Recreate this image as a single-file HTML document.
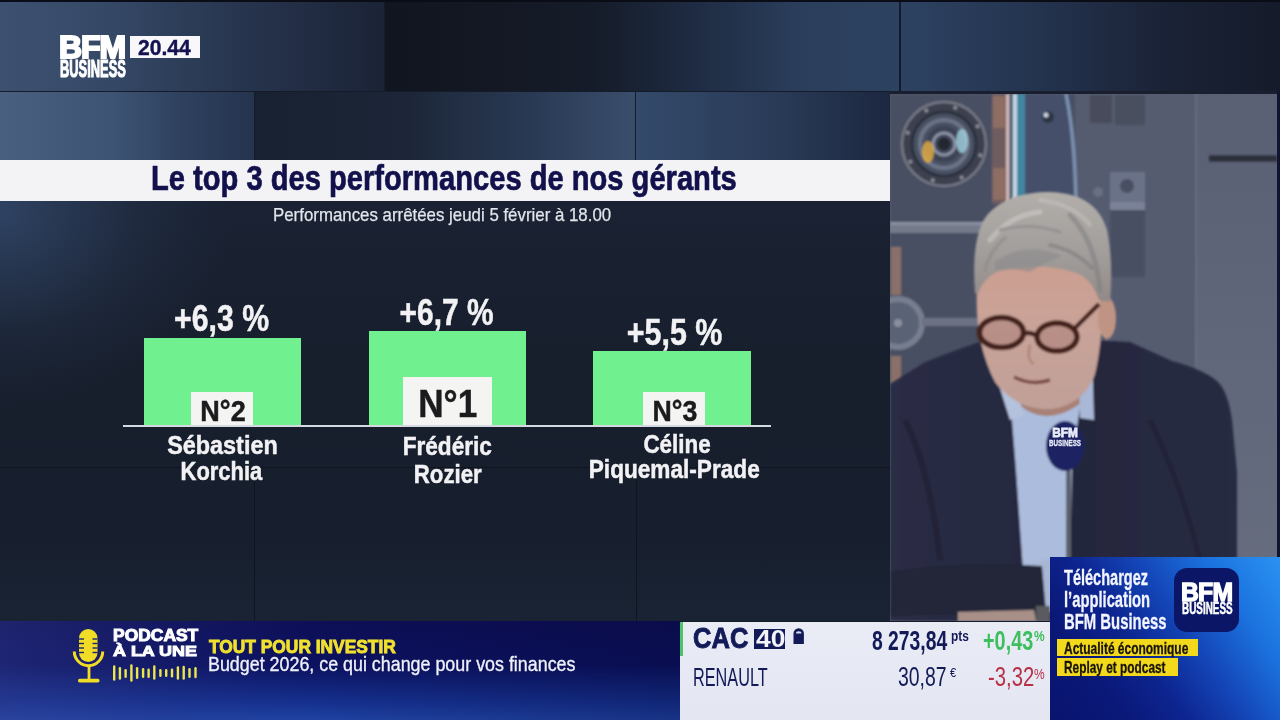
<!DOCTYPE html>
<html><head><meta charset="utf-8">
<style>
*{margin:0;padding:0;box-sizing:border-box}
html,body{width:1280px;height:720px;overflow:hidden;background:#151b29;font-family:"Liberation Sans",Arial,sans-serif}
.a{position:absolute}
.t{position:absolute;white-space:nowrap;line-height:1}
.sx{display:inline-block;transform-origin:0 0}
.c{position:absolute;width:300px;text-align:center;white-space:nowrap;line-height:1}
.cs{display:inline-block;transform-origin:50% 0}
</style></head><body>
<!-- top row tiles -->
<div class="a" style="left:0;top:0;width:384px;height:91px;background:linear-gradient(90deg,#3d5070 0%,#364a68 25%,#283650 60%,#1b2336 100%)"></div>
<div class="a" style="left:385px;top:0;width:514px;height:91px;background:linear-gradient(90deg,#11151f 0%,#151b28 40%,#1e2b42 60%,#2b3f5d 82%,#2d4160 100%)"></div>
<div class="a" style="left:901px;top:0;width:379px;height:91px;background:linear-gradient(90deg,#2d4262 0%,#24344f 35%,#1a2236 70%,#151b2a 100%)"></div>
<div class="a" style="left:0;top:0;width:1280px;height:2px;background:#0a0d16"></div>
<!-- row 2 -->
<div class="a" style="left:0;top:92px;width:254px;height:68px;background:linear-gradient(90deg,#4a6080 0%,#435a7a 20%,#3d5373 45%,#2e405e 72%,#25344f 100%)"></div>
<div class="a" style="left:255px;top:92px;width:380px;height:68px;background:linear-gradient(90deg,#182131 0%,#1c2638 40%,#2a3b56 75%,#3a4e6c 100%)"></div>
<div class="a" style="left:636px;top:92px;width:254px;height:68px;background:linear-gradient(90deg,#344a6b 0%,#283955 60%,#1c2740 100%)"></div>
<!-- chart area -->
<div class="a" style="left:0;top:201px;width:890px;height:420px;background:linear-gradient(180deg,#1a2233 0%,#171e2c 40%,#171f2e 80%,#192333 100%)"></div>
<div class="a" style="left:0;top:201px;width:890px;height:420px;background:radial-gradient(ellipse 230px 200px at 0px 10px,rgba(60,88,130,.6),rgba(60,88,130,.15) 60%,rgba(60,88,130,0) 100%)"></div>
<div class="a" style="left:0;top:467px;width:890px;height:1px;background:#10141d"></div>
<div class="a" style="left:254px;top:467px;width:1px;height:154px;background:#10141d"></div>
<div class="a" style="left:636px;top:467px;width:1px;height:154px;background:#10141d"></div>

<!-- white title bar -->
<div class="a" style="left:0;top:160px;width:890px;height:41px;background:#f3f3f5"></div>
<div class="t" id="title" style="left:151px;top:160px;font-size:35px;font-weight:bold;color:#12114c;-webkit-text-stroke:0.7px #12114c"><span class="sx" style="transform:scaleX(0.832)">Le top 3 des performances de nos gérants</span></div>
<div class="t" id="sub" style="left:273.2px;top:204.5px;font-size:19px;color:#e2e5ec;-webkit-text-stroke:0.25px #e2e5ec"><span class="sx" style="transform:scaleX(0.887)">Performances arrêtées jeudi 5 février à 18.00</span></div>

<!-- photo -->
<div class="a" style="left:890px;top:91px;width:390px;height:3px;background:#1a1f30"></div>
<div class="a" style="left:1277px;top:91px;width:3px;height:530px;background:#0f1530"></div>
<svg class="a" style="left:890px;top:94px" width="387" height="527" viewBox="890 94 387 527">
<defs>
<filter id="b1" x="-10%" y="-10%" width="120%" height="120%"><feGaussianBlur stdDeviation="1"/></filter>
<filter id="b2" x="-20%" y="-20%" width="140%" height="140%"><feGaussianBlur stdDeviation="2.5"/></filter>
<linearGradient id="wall" x1="0" y1="0" x2="0" y2="1"><stop offset="0" stop-color="#596074"/><stop offset="1" stop-color="#686e80"/></linearGradient>
<radialGradient id="dial" cx="0.5" cy="0.5" r="0.5"><stop offset="0" stop-color="#2a2f3c"/><stop offset="0.25" stop-color="#3a4152"/><stop offset="0.5" stop-color="#505a70"/><stop offset="0.75" stop-color="#3a4050"/><stop offset="1" stop-color="#4a5062"/></radialGradient>
<linearGradient id="hairg" x1="0" y1="0" x2="0" y2="1"><stop offset="0" stop-color="#b2aeaa"/><stop offset="0.55" stop-color="#a29e9b"/><stop offset="1" stop-color="#928a88"/></linearGradient>
<linearGradient id="skin" x1="0" y1="0" x2="0" y2="1"><stop offset="0" stop-color="#cc9e8e"/><stop offset="0.45" stop-color="#c9a398"/><stop offset="1" stop-color="#c0a098"/></linearGradient>
<linearGradient id="jack" x1="0" y1="0" x2="1" y2="0"><stop offset="0" stop-color="#2a2d45"/><stop offset="0.5" stop-color="#24273d"/><stop offset="1" stop-color="#282b42"/></linearGradient>
</defs>
<rect x="890" y="94" width="387" height="527" fill="url(#wall)"/>
<g filter="url(#b1)">
<!-- vault door left -->
<rect x="890" y="94" width="185" height="290" fill="#4a5062"/>
<rect x="1024" y="94" width="48" height="200" fill="#45506a"/>
<rect x="1075" y="94" width="120" height="290" fill="#545b6f"/>
<line x1="1196" y1="94" x2="1196" y2="560" stroke="#6a7088" stroke-width="1.5"/>
<rect x="1209" y="155.5" width="68" height="6" fill="#2a2d38"/>
<!-- dial -->
<circle cx="944" cy="144" r="42" fill="#3c4150" stroke="#767884" stroke-width="2.5"/>
<circle cx="980.3" cy="155.2" r="2" fill="#8a8c96"/><circle cx="961.7" cy="177.6" r="2" fill="#8a8c96"/><circle cx="932.8" cy="180.3" r="2" fill="#8a8c96"/><circle cx="910.4" cy="161.7" r="2" fill="#8a8c96"/><circle cx="907.7" cy="132.8" r="2" fill="#8a8c96"/><circle cx="926.3" cy="110.4" r="2" fill="#8a8c96"/><circle cx="955.2" cy="107.7" r="2" fill="#8a8c96"/><circle cx="977.6" cy="126.3" r="2" fill="#8a8c96"/>
<circle cx="944" cy="144" r="32" fill="#4a5164" stroke="#2c303c" stroke-width="3"/>
<circle cx="944" cy="144" r="24" fill="none" stroke="#6c7488" stroke-width="4"/>
<circle cx="944" cy="144" r="18" fill="#3c4254"/>
<circle cx="944" cy="144" r="11" fill="none" stroke="#8a92a4" stroke-width="3"/>
<circle cx="944" cy="144" r="6" fill="#22262e"/>
<ellipse cx="928" cy="152" rx="6" ry="11" fill="#e8b040" opacity="0.8"/>
<ellipse cx="962" cy="141" rx="6" ry="12" fill="#a8dce8" opacity="0.75"/>
<!-- copper bars -->
<rect x="992" y="94" width="15" height="110" fill="#6e5c60"/>
<rect x="993" y="96" width="12" height="32" fill="#8e6e64"/>
<rect x="993" y="168" width="12" height="32" fill="#8e6e64"/>
<rect x="1006" y="94" width="3.5" height="110" fill="#d0b8b4"/>
<rect x="1012" y="94" width="13" height="110" fill="#3f86a0"/>
<rect x="1013" y="94" width="4" height="110" fill="#c4d4e4"/>
<path d="M1066 94 Q1078 150 1076 260" fill="none" stroke="#7a90b0" stroke-width="3.5"/>
<circle cx="1048" cy="117" r="6" fill="#2e3442"/>
<circle cx="1046" cy="115" r="2.5" fill="#c8d0e0"/>
<rect x="1090" y="95" width="22" height="28" fill="#464c5c"/>
<rect x="1115" y="95" width="30" height="30" fill="#4a4f5e"/>
<!-- hinge block -->
<rect x="1110" y="172" width="35" height="30" fill="#6a7288"/>
<circle cx="1127" cy="186" r="7" fill="#4a5062"/>
<rect x="1110" y="202" width="35" height="75" fill="#4a5062"/>
<rect x="1110" y="202" width="35" height="8" fill="#7a8298"/>
<circle cx="1098" cy="192" r="5" fill="#6a7080"/>
<!-- rods -->
<rect x="890" y="222" width="100" height="11" fill="#747a8a"/>
<rect x="890" y="222" width="100" height="3" fill="#8a90a0"/>
<rect x="891" y="247" width="10" height="48" fill="#8a7068"/>
<rect x="891" y="356" width="10" height="28" fill="#8a7068"/>
<circle cx="898" cy="323" r="24" fill="#5a6274" stroke="#777e90" stroke-width="6"/>
<circle cx="898" cy="323" r="4" fill="#8a90a0"/>
<rect x="922" y="318" width="60" height="8" fill="#6c7284"/>
</g>
<g filter="url(#b1)">
<!-- jacket -->
<path d="M890 384 L925 362 L962 348 L986 340 L1000 362 L1009 380 L1025 560 L1045 590 L1063 560 L1076 400 L1090 340 L1130 342 L1172 361 Q1205 370 1218 382 Q1228 392 1232 420 L1237 472 L1237 621 L890 621 Z" fill="url(#jack)"/>
<path d="M905 420 Q930 470 940 560" fill="none" stroke="#202338" stroke-width="6"/>
<path d="M1150 420 Q1180 480 1200 560" fill="none" stroke="#202338" stroke-width="5"/>
<!-- shirt -->
<path d="M1006 372 L1020 365 L1045 395 L1075 368 L1085 378 L1078 420 L1072 470 L1070 570 L1023 570 L1016 470 L1012 420 Z" fill="#acbcdc"/>
<path d="M1040 560 L1054 560 L1054 612 L1040 612 Z" fill="#a8b6d4"/>
<!-- sleeve -->
<path d="M890 572 Q960 560 1042 566 L1046 612 L890 616 Z" fill="#222538"/>
<path d="M958 612 L1034 610 L1036 621 L958 621 Z" fill="#a89088"/>
<rect x="1036" y="606" width="14" height="15" fill="#5a5a60"/>
<!-- neck -->
<path d="M1012 370 Q1045 425 1085 362 L1085 400 Q1045 432 1014 400 Z" fill="#a88074"/>
<!-- collar -->
<path d="M998 382 L1012 376 L1024 415 L1010 420 Z" fill="#b4c2de"/>
<path d="M1078 356 L1092 348 L1094 420 L1080 418 Z" fill="#a8b8d6"/>
<!-- face -->
<path d="M977 290 C975 322 981 355 995 382 C1010 402 1030 410 1050 409 C1072 407 1088 394 1095 374 C1101 348 1103 320 1101 298 C1098 270 1075 255 1045 255 C1010 255 982 268 977 290 Z" fill="url(#skin)"/>
<!-- ear -->
<ellipse cx="1107" cy="318" rx="9" ry="21" fill="#c09484"/>
<!-- hair -->
<path d="M975 292 C972 255 977 226 988 214 C1002 199 1022 192 1050 192 C1080 193 1100 205 1107 230 C1112 255 1112 280 1110 302 L1099 300 C1094 286 1086 276 1076 273 C1056 266 1036 264 1000 271 C990 274 982 282 977 296 Z" fill="url(#hairg)"/>
<path d="M995 262 Q1025 240 1062 256 Q1045 262 1030 272 Q1012 268 995 270 Z" fill="#8a8a8c" opacity="0.6"/>
<g fill="none" stroke-linecap="round" opacity="0.55">
<path d="M1070 215 Q1095 240 1100 290" stroke="#7e7e82" stroke-width="5"/>
<path d="M990 240 Q1010 215 1040 212" stroke="#cfcfcc" stroke-width="5"/>
<path d="M1000 230 Q1030 222 1060 232" stroke="#85858a" stroke-width="3"/>
<path d="M985 270 Q990 250 1005 238" stroke="#8a8a8c" stroke-width="4"/>
<path d="M1040 200 Q1075 205 1090 225" stroke="#c4c4c2" stroke-width="4"/>
<path d="M1050 245 Q1075 250 1092 268" stroke="#7a7a7e" stroke-width="4"/>
</g>
<!-- glasses -->
<ellipse cx="1001.5" cy="332.5" rx="22" ry="15" fill="#b08880" opacity="0.7"/>
<ellipse cx="1057" cy="337" rx="20" ry="14" fill="#b08880" opacity="0.7"/>
<g fill="none" stroke="#44231a" stroke-width="5.5">
<ellipse cx="1001.5" cy="332.5" rx="22" ry="15"/>
<ellipse cx="1057" cy="337" rx="20" ry="14"/>
</g>
<g fill="none" stroke="#44231a" stroke-width="4.5">
<path d="M1023 334 Q1030 331 1037 336"/>
<path d="M1075 328 L1099 304"/>
</g>
<!-- nose/mouth -->
<path d="M1030 345 Q1026 360 1034 364" fill="none" stroke="#a87868" stroke-width="3" opacity="0.6"/>
<path d="M1014 377 Q1032 386 1050 380" fill="none" stroke="#7a4a44" stroke-width="3.5"/>
<!-- mic -->
<rect x="1066" y="465" width="5" height="95" fill="#5a606a"/>
<ellipse cx="1065" cy="446" rx="19" ry="25" fill="#1a2262"/>
</g>
<text x="1065" y="437" font-family="Liberation Sans" font-weight="bold" font-size="12.5" fill="#e8ecf8" text-anchor="middle" stroke="#e8ecf8" stroke-width="0.8" transform="translate(1065 0) scale(0.95 1) translate(-1065 0)">BFM</text>
<text x="1065" y="446" font-family="Liberation Sans" font-weight="bold" font-size="9.5" fill="#e8ecf8" text-anchor="middle" stroke="#e8ecf8" stroke-width="0.3" transform="translate(1065 0) scale(0.66 1) translate(-1065 0)">BUSINESS</text>
</svg>
<!-- chart -->
<div class="a" style="left:144px;top:338px;width:157px;height:88px;background:#70f08e"></div>
<div class="a" style="left:369px;top:331px;width:157px;height:95px;background:#70f08e"></div>
<div class="a" style="left:593px;top:351px;width:158px;height:75px;background:#70f08e"></div>
<div class="a" style="left:191px;top:392px;width:62px;height:34px;background:#f4f4f2"></div>
<div class="a" style="left:403px;top:377px;width:89px;height:49px;background:#f4f4f2"></div>
<div class="a" style="left:643px;top:392px;width:62px;height:34px;background:#f4f4f2"></div>
<div class="a" style="left:123px;top:425px;width:648px;height:2px;background:#d4d8e0"></div>
<div class="c" id="v1" style="left:72px;top:301px;font-size:36px;font-weight:bold;color:#f2f2f4;-webkit-text-stroke:0.5px #f2f2f4"><span class="cs" style="transform:scaleX(0.84)">+6,3 %</span></div>
<div class="c" id="v2" style="left:296.7px;top:294.6px;font-size:36px;font-weight:bold;color:#f2f2f4;-webkit-text-stroke:0.5px #f2f2f4"><span class="cs" style="transform:scaleX(0.83)">+6,7 %</span></div>
<div class="c" id="v3" style="left:524.7px;top:315px;font-size:36px;font-weight:bold;color:#f2f2f4;-webkit-text-stroke:0.5px #f2f2f4"><span class="cs" style="transform:scaleX(0.845)">+5,5 %</span></div>
<div class="c" id="n2" style="left:72.5px;top:397px;font-size:28.6px;font-weight:bold;color:#1b1b1d;-webkit-text-stroke:0.5px #1b1b1d"><span class="cs" style="transform:scaleX(0.944)">N°2</span></div>
<div class="c" id="n1" style="left:298px;top:383.7px;font-size:39px;font-weight:bold;color:#1b1b1d;-webkit-text-stroke:0.5px #1b1b1d"><span class="cs" style="transform:scaleX(0.9)">N°1</span></div>
<div class="c" id="n3" style="left:524.5px;top:397px;font-size:28.6px;font-weight:bold;color:#1b1b1d;-webkit-text-stroke:0.5px #1b1b1d"><span class="cs" style="transform:scaleX(0.933)">N°3</span></div>
<div class="c" id="s1a" style="left:72px;top:431.6px;font-size:26px;font-weight:bold;color:#f2f2f4;-webkit-text-stroke:0.5px #f2f2f4"><span class="cs" style="transform:scaleX(0.9)">Sébastien</span></div>
<div class="c" id="s1b" style="left:71.9px;top:457.5px;font-size:26px;font-weight:bold;color:#f2f2f4;-webkit-text-stroke:0.5px #f2f2f4"><span class="cs" style="transform:scaleX(0.844)">Korchia</span></div>
<div class="c" id="s2a" style="left:297.3px;top:433.2px;font-size:26px;font-weight:bold;color:#f2f2f4;-webkit-text-stroke:0.5px #f2f2f4"><span class="cs" style="transform:scaleX(0.87)">Frédéric</span></div>
<div class="c" id="s2b" style="left:297.9px;top:460.7px;font-size:26px;font-weight:bold;color:#f2f2f4;-webkit-text-stroke:0.5px #f2f2f4"><span class="cs" style="transform:scaleX(0.855)">Rozier</span></div>
<div class="c" id="s3a" style="left:526.75px;top:431px;font-size:26px;font-weight:bold;color:#f2f2f4;-webkit-text-stroke:0.5px #f2f2f4"><span class="cs" style="transform:scaleX(0.862)">Céline</span></div>
<div class="c" id="s3b" style="left:524.65px;top:456.3px;font-size:26px;font-weight:bold;color:#f2f2f4;-webkit-text-stroke:0.5px #f2f2f4"><span class="cs" style="transform:scaleX(0.87)">Piquemal-Prade</span></div>

<!-- BFM logo -->
<div class="t" id="bfm" style="left:59px;top:32px;font-size:31px;font-weight:bold;color:#fff;-webkit-text-stroke:2px #fff;letter-spacing:-1px"><span class="sx" style="transform:scaleX(1.03)">BFM</span></div>
<div class="t" id="bus" style="left:60px;top:57.6px;font-size:23px;font-weight:bold;color:#fff;-webkit-text-stroke:1.1px #fff"><span class="sx" style="transform:scaleX(0.56)">BUSINESS</span></div>
<div class="a" style="left:130px;top:36px;width:70px;height:22px;background:#f8f8fa"></div>
<div class="t" id="time" style="left:138px;top:38.2px;font-size:21.3px;font-weight:bold;color:#141250;-webkit-text-stroke:0.4px #141250"><span class="sx" style="transform:scaleX(0.99)">20.44</span></div>
<div class="a" style="left:0;top:621px;width:680px;height:99px;background:linear-gradient(180deg,#0d0f56 0%,#0c1260 45%,#15308e 82%,#1f42a2 100%)"></div>
<div class="a" style="left:0;top:621px;width:680px;height:99px;background:linear-gradient(90deg,rgba(60,70,150,.38) 0%,rgba(50,60,140,.22) 22%,rgba(0,0,0,0) 45%,rgba(0,0,30,.22) 100%)"></div>
<svg class="a" style="left:0;top:0" width="1280" height="720" viewBox="0 0 1280 720">
<g fill="#f1dc26" stroke="none">
<rect x="79" y="629" width="18.5" height="33" rx="9.2"/>
<rect x="87.6" y="665" width="2.8" height="15"/>
<rect x="78" y="678.8" width="21.5" height="3.6" rx="1.6"/>
</g>
<path d="M74.3 651.5 A14.2 14.2 0 0 0 102.7 651.5" fill="none" stroke="#f1dc26" stroke-width="3"/>
<g stroke="#1b2470" stroke-width="1.4">
<line x1="79" y1="639" x2="84" y2="639"/><line x1="92.5" y1="639" x2="97.5" y2="639"/>
<line x1="79" y1="643.5" x2="84" y2="643.5"/><line x1="92.5" y1="643.5" x2="97.5" y2="643.5"/>
<line x1="79" y1="648" x2="84" y2="648"/><line x1="92.5" y1="648" x2="97.5" y2="648"/>
<line x1="79" y1="652.5" x2="84" y2="652.5"/><line x1="92.5" y1="652.5" x2="97.5" y2="652.5"/>
</g>
<g stroke="#ece64a" stroke-width="2.4" stroke-linecap="round">
<line x1="114.2" y1="666.4" x2="114.2" y2="679.5"/><line x1="119.9" y1="668.3" x2="119.9" y2="678.6"/><line x1="125.6" y1="670.2" x2="125.6" y2="676.7"/><line x1="131.4" y1="665.5" x2="131.4" y2="680.5"/><line x1="137.1" y1="668.3" x2="137.1" y2="677.7"/><line x1="143.1" y1="669.3" x2="143.1" y2="676.7"/><line x1="148.6" y1="669.7" x2="148.6" y2="676.7"/><line x1="154.3" y1="666.4" x2="154.3" y2="678.6"/><line x1="160.4" y1="670.2" x2="160.4" y2="675.8"/><line x1="166.2" y1="670.2" x2="166.2" y2="675.8"/><line x1="172" y1="669.7" x2="172" y2="676.2"/><line x1="177.9" y1="667.4" x2="177.9" y2="678.6"/><line x1="183.7" y1="666.9" x2="183.7" y2="678.6"/><line x1="189.5" y1="669.3" x2="189.5" y2="676.7"/><line x1="195.5" y1="668.3" x2="195.5" y2="677.1"/>
</g>
</svg>
<div class="t" id="pod" style="left:113px;top:627.5px;font-size:16px;font-weight:bold;color:#fff;-webkit-text-stroke:1px #fff"><span class="sx" style="transform:scaleX(1.09)">PODCAST</span></div>
<div class="t" id="une" style="left:113px;top:643px;font-size:15.5px;font-weight:bold;color:#fff;-webkit-text-stroke:1px #fff"><span class="sx" style="transform:scaleX(1.155)">À LA UNE</span></div>
<div class="t" id="tpi" style="left:209px;top:637.6px;font-size:18.4px;font-weight:bold;color:#f1e12e;-webkit-text-stroke:0.9px #f1e12e"><span class="sx" style="transform:scaleX(0.944)">TOUT POUR INVESTIR</span></div>
<div class="t" id="bud" style="left:207.6px;top:655px;font-size:19.8px;font-weight:normal;color:#eef0fa;-webkit-text-stroke:0.35px #eef0fa"><span class="sx" style="transform:scaleX(0.903)">Budget 2026, ce qui change pour vos finances</span></div>
<div class="a" style="left:680px;top:621.5px;width:370px;height:98.5px;background:linear-gradient(180deg,#e9ebf5 0%,#e4e7f2 100%)"></div>
<div class="a" style="left:680px;top:621.5px;width:3px;height:34px;background:#4cc46a"></div>
<div class="a" style="left:754px;top:628.5px;width:31px;height:20.5px;background:#121a58"></div>
<svg class="a" style="left:0;top:0" width="1280" height="720" viewBox="0 0 1280 720">
<path d="M793.5 644 V633.5 a5.2 5.2 0 0 1 10.4 0 V644 Z" fill="#121a58"/>
<path d="M796 633.5 a2.7 2.2 0 0 1 5.4 0" fill="#d8dcf0"/>
</svg>
<div class="t" id="cac" style="left:693px;top:623px;font-size:30px;font-weight:bold;color:#121a58;-webkit-text-stroke:0.9px #121a58"><span class="sx" style="transform:scaleX(0.852)">CAC</span></div>
<div class="t" id="c40" style="left:756px;top:627.6px;font-size:23px;font-weight:bold;color:#f4f4fa;"><span class="sx" style="transform:scaleX(1.15)">40</span></div>
<div class="t" id="pts1" style="left:871.5px;top:626.5px;font-size:27.6px;font-weight:bold;color:#121a58;"><span class="sx" style="transform:scaleX(0.7)">8 273,84</span></div>
<div class="t" id="pts2" style="left:951px;top:629px;font-size:14px;font-weight:bold;color:#121a58;"><span class="sx" style="transform:scaleX(0.85)">pts</span></div>
<div class="t" id="chg1" style="left:983px;top:626.5px;font-size:27.6px;font-weight:bold;color:#3dbf5f;"><span class="sx" style="transform:scaleX(0.72)">+0,43</span></div>
<div class="t" id="pc1" style="left:1034px;top:628px;font-size:15px;font-weight:bold;color:#3dbf5f;"><span class="sx" style="transform:scaleX(0.8)">%</span></div>
<div class="t" id="ren" style="left:692.7px;top:665px;font-size:25.6px;font-weight:normal;color:#121a58;"><span class="sx" style="transform:scaleX(0.635)">RENAULT</span></div>
<div class="t" id="px2" style="left:898px;top:664px;font-size:27px;font-weight:normal;color:#121a58;"><span class="sx" style="transform:scaleX(0.72)">30,87</span></div>
<div class="t" id="eur" style="left:949.5px;top:666px;font-size:13px;font-weight:normal;color:#121a58;"><span class="sx" style="transform:scaleX(0.85)">€</span></div>
<div class="t" id="chg2" style="left:988px;top:664px;font-size:27px;font-weight:normal;color:#b83048;"><span class="sx" style="transform:scaleX(0.75)">-3,32</span></div>
<div class="t" id="pc2" style="left:1034px;top:666px;font-size:15px;font-weight:normal;color:#b83048;"><span class="sx" style="transform:scaleX(0.8)">%</span></div>
<div class="a" style="left:1050px;top:557px;width:230px;height:163px;background:linear-gradient(235deg,#2a92f2 0%,#1b72de 22%,#1446b8 42%,#0d2590 60%,#0a1878 78%,#09146e 100%)"></div>
<div class="a" style="left:1173.5px;top:567.7px;width:65px;height:64px;border-radius:13px;background:#0b1666"></div>
<div class="a" style="left:1057px;top:639px;width:141px;height:17.4px;background:#f3d91c"></div>
<div class="a" style="left:1057px;top:658.3px;width:120.5px;height:18.1px;background:#f3d91c"></div>
<div class="t" id="tel" style="left:1064px;top:567.5px;font-size:21.4px;font-weight:bold;color:#f2f4ff;-webkit-text-stroke:0.3px #f2f4ff"><span class="sx" style="transform:scaleX(0.68)">Téléchargez</span></div>
<div class="t" id="app" style="left:1064px;top:589.5px;font-size:21.4px;font-weight:bold;color:#f2f4ff;-webkit-text-stroke:0.3px #f2f4ff"><span class="sx" style="transform:scaleX(0.69)">l’application</span></div>
<div class="t" id="bfb" style="left:1064px;top:611.5px;font-size:21.4px;font-weight:bold;color:#f2f4ff;-webkit-text-stroke:0.3px #f2f4ff"><span class="sx" style="transform:scaleX(0.695)">BFM Business</span></div>
<div class="t" id="act" style="left:1063.5px;top:640px;font-size:16.4px;font-weight:bold;color:#181408;-webkit-text-stroke:0.3px #181408"><span class="sx" style="transform:scaleX(0.73)">Actualité économique</span></div>
<div class="t" id="rep" style="left:1063.5px;top:659.3px;font-size:16.4px;font-weight:bold;color:#181408;-webkit-text-stroke:0.3px #181408"><span class="sx" style="transform:scaleX(0.724)">Replay et podcast</span></div>
<div class="t" id="ibfm" style="left:1181px;top:579px;font-size:26px;font-weight:bold;color:#fff;-webkit-text-stroke:1.4px #fff;letter-spacing:-0.8px"><span class="sx" style="transform:scaleX(0.95)">BFM</span></div>
<div class="t" id="ibus" style="left:1181.5px;top:600px;font-size:16.5px;font-weight:bold;color:#fff;-webkit-text-stroke:0.5px #fff"><span class="sx" style="transform:scaleX(0.6)">BUSINESS</span></div>
</body></html>
